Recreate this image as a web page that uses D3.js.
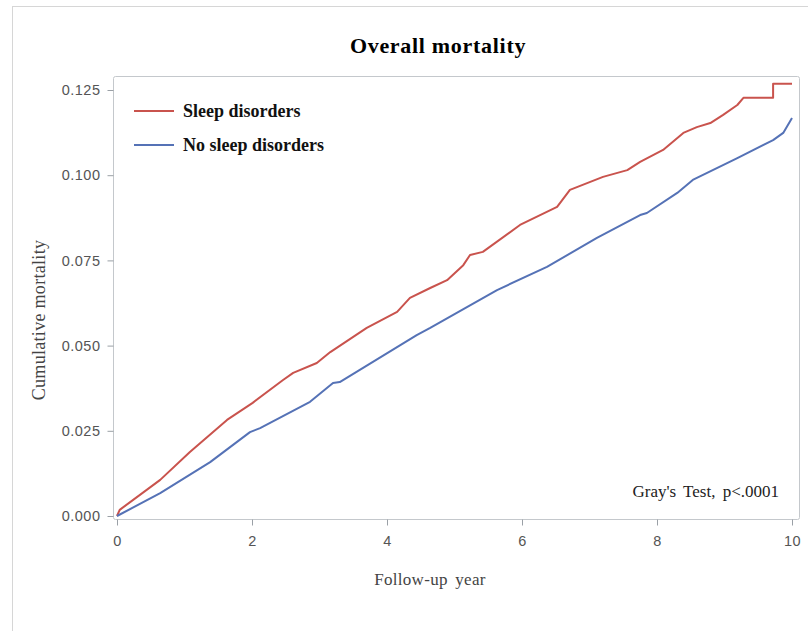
<!DOCTYPE html>
<html>
<head>
<meta charset="utf-8">
<script src="https://cdn.jsdelivr.net/npm/d3@7"></script>
<style>
  body { margin: 0; background: #fff; }
  .tick text { font-family: "Liberation Sans", Arial, sans-serif; }
</style>
</head>
<body>
<div id="canvas"></div>
<script>
// data (follow-up year, cumulative mortality)
let sleepYears = [0, 0.04, 0.64, 1.08, 1.63, 2.01, 2.46, 2.61, 2.96, 3.16, 3.70, 4.15, 4.34, 4.64, 4.89, 5.13, 5.23, 5.42, 5.97, 6.52, 6.71, 7.20, 7.56, 7.75, 8.09, 8.39, 8.59, 8.79, 8.98, 9.19, 9.28, 9.72, 9.72, 10.0]
let sleepValues = [0, 0.0018, 0.0106, 0.0188, 0.0282, 0.0332, 0.0399, 0.0420, 0.0449, 0.0481, 0.0552, 0.0599, 0.0640, 0.0669, 0.0692, 0.0736, 0.0766, 0.0775, 0.0854, 0.0907, 0.0957, 0.0995, 0.1015, 0.1039, 0.1074, 0.1124, 0.1141, 0.1153, 0.1177, 0.1206, 0.1227, 0.1227, 0.1268, 0.1268]

let noSleepYears = [0, 0.64, 1.38, 1.97, 2.12, 2.86, 3.20, 3.30, 4.44, 4.64, 5.63, 6.37, 7.11, 7.75, 7.85, 8.30, 8.53, 9.19, 9.72, 9.87, 10.0]
let noSleepValues = [0, 0.0067, 0.0158, 0.0246, 0.0258, 0.0335, 0.0390, 0.0393, 0.0531, 0.0552, 0.0663, 0.0731, 0.0816, 0.0883, 0.0889, 0.0948, 0.0986, 0.1050, 0.1103, 0.1124, 0.1168]

let xTicks = [0, 2, 4, 6, 8, 10]
let yTicks = [0, 0.025, 0.05, 0.075, 0.1, 0.125]

let seriesNames = ["Sleep disorders", "No sleep disorders"]
let seriesColors = ["#c9534d", "#5572b6"]

let serif = "'Liberation Serif', 'Times New Roman', serif"

// setup canvas
let width = 808
let height = 631

let svg = d3.select("#canvas").append("svg")
    .attr("width", width)
    .attr("height", height)

// outer frame
svg.append("rect")
    .attr("x", 12.5).attr("y", 6.5)
    .attr("width", 820).attr("height", 640)
    .attr("fill", "none")
    .attr("stroke", "#d6d6d6")

let x = d3.scaleLinear().domain([0, 10]).range([117, 792])
let y = d3.scaleLinear().domain([0, 0.125]).range([516, 90])

// plot frame
svg.append("rect")
    .attr("x", 113.5).attr("y", 76.5)
    .attr("width", 686).attr("height", 443)
    .attr("rx", 2)
    .attr("fill", "none")
    .attr("stroke", "#c4c8cc")

// axes
let xAxis = svg.append("g")
    .attr("transform", "translate(0,519.5)")
    .call(d3.axisBottom(x).tickValues(xTicks).tickSize(6).tickPadding(10).tickFormat(d3.format("d")))
let yAxis = svg.append("g")
    .attr("transform", "translate(113.5,0)")
    .call(d3.axisLeft(y).tickValues(yTicks).tickSize(6).tickPadding(7).tickFormat(d3.format(".3f")))

;[xAxis, yAxis].forEach(a => {
    a.select(".domain").remove()
    a.selectAll(".tick line").attr("stroke", "#9aa0a6")
    a.selectAll(".tick text")
        .attr("fill", "#555")
        .attr("font-size", 14.5)
        .attr("letter-spacing", 0.5)
})

// curves
let series = [
    sleepYears.map((t, i) => [t, sleepValues[i]]),
    noSleepYears.map((t, i) => [t, noSleepValues[i]])
]

let line = d3.line()
    .x(d => x(d[0]))
    .y(d => y(d[1]))

svg.append("g")
    .selectAll("path")
    .data(series)
    .enter().append("path")
        .attr("d", line)
        .attr("fill", "none")
        .attr("stroke", (d, i) => seriesColors[i])
        .attr("stroke-width", 2)
        .attr("stroke-linejoin", "round")

// legend
let legend = svg.append("g")
    .selectAll("g")
    .data(seriesNames)
    .enter().append("g")
    .attr("transform", (d, i) => "translate(134," + (111 + i * 34) + ")")

legend.append("line")
    .attr("x1", 0).attr("x2", 40)
    .attr("stroke", (d, i) => seriesColors[i])
    .attr("stroke-width", 2)

legend.append("text")
    .attr("x", 49)
    .attr("dy", "0.35em")
    .attr("font-family", serif)
    .attr("font-weight", "bold")
    .attr("font-size", 18)
    .attr("fill", "#111")
    .text(d => d)

// title
svg.append("text")
    .attr("x", 438).attr("y", 53)
    .attr("text-anchor", "middle")
    .attr("font-family", serif)
    .attr("font-weight", "bold")
    .attr("font-size", 22)
    .attr("letter-spacing", 0.7)
    .attr("fill", "#000")
    .text("Overall mortality")

// axis titles
svg.append("text")
    .attr("x", 430).attr("y", 585)
    .attr("text-anchor", "middle")
    .attr("font-family", serif)
    .attr("font-size", 17)
    .attr("letter-spacing", 0.3)
    .attr("fill", "#444")
    .attr("word-spacing", 3)
    .text("Follow-up year")

svg.append("text")
    .attr("transform", "translate(45,320) rotate(-90)")
    .attr("text-anchor", "middle")
    .attr("font-family", serif)
    .attr("font-size", 18)
    .attr("letter-spacing", 0.3)
    .attr("fill", "#444")
    .text("Cumulative mortality")

// test annotation
svg.append("text")
    .attr("x", 779).attr("y", 497)
    .attr("text-anchor", "end")
    .attr("font-family", serif)
    .attr("font-size", 17)
    .attr("fill", "#222")
    .attr("word-spacing", 3)
    .text("Gray's Test, p<.0001")
</script>
</body>
</html>
